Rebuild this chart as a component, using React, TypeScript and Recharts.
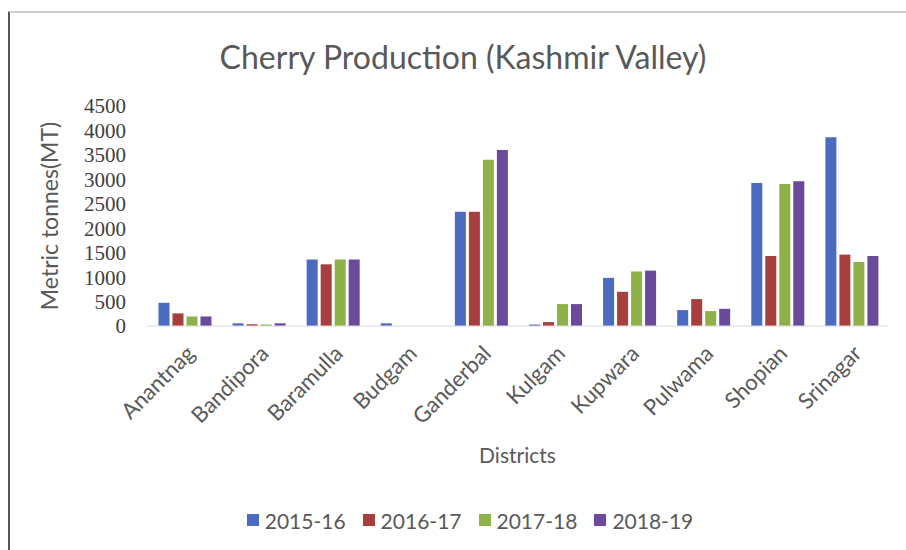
import React from 'react';
import { BarChart, Bar, XAxis, YAxis, Legend } from 'recharts';

const districts = ['Anantnag', 'Bandipora', 'Baramulla', 'Budgam', 'Ganderbal', 'Kulgam', 'Kupwara', 'Pulwama', 'Shopian', 'Srinagar'];
const y2015 = [475, 55, 1360, 55, 2335, 30, 985, 325, 2925, 3860];
const y2016 = [258, 35, 1262, 0, 2335, 80, 700, 550, 1432, 1460];
const y2017 = [195, 30, 1360, 0, 3400, 448, 1115, 305, 2905, 1310];
const y2018 = [195, 55, 1360, 0, 3600, 448, 1133, 352, 2960, 1432];
const yTicks = [0, 500, 1000, 1500, 2000, 2500, 3000, 3500, 4000, 4500];

const seriesInfo = [
  { key: 'y2015', name: '2015-16', color: '#4a6bbf' },
  { key: 'y2016', name: '2016-17', color: '#a73f3f' },
  { key: 'y2017', name: '2017-18', color: '#8fb14a' },
  { key: 'y2018', name: '2018-19', color: '#6a4a9b' },
];

const data = districts.map((d, i) => ({
  district: d,
  y2015: y2015[i],
  y2016: y2016[i],
  y2017: y2017[i],
  y2018: y2018[i],
}));

const FONT = 'Lato, "Liberation Sans", sans-serif';

const DistrictTick = ({ x, y, payload }: any) => (
  <text
    x={x + 8}
    y={y + 17}
    transform={`rotate(-45 ${x + 8} ${y + 17})`}
    textAnchor="end"
    dominantBaseline="middle"
    fontFamily={FONT}
    fontSize={22}
    fill="#595959"
  >
    {payload.value}
  </text>
);

const LegendContent = ({ payload }: any) => (
  <div style={{ display: 'flex', justifyContent: 'center', gap: 17, height: 30, alignItems: 'center', fontFamily: FONT, fontSize: 21, color: '#595959' }}>
    {(payload || []).map((p: any) => (
      <div key={p.value} style={{ display: 'flex', alignItems: 'center', gap: 6 }}>
        <span style={{ display: 'inline-block', width: 12, height: 12, background: p.color }} />
        <span>{p.value}</span>
      </div>
    ))}
  </div>
);

export default function App() {
  return (
    <div style={{ position: 'absolute', left: 0, top: 0, width: 906, height: 550, background: '#fff' }}>
      <div style={{ position: 'absolute', left: 8, top: 11, right: 0, bottom: 0, borderLeft: '2px solid #555', borderTop: '2px solid #cfcfcf' }} />
      <div style={{ position: 'absolute', left: 0, top: 37, width: 926, textAlign: 'center', fontFamily: FONT, fontSize: 32, color: '#595959' }}>
        Cherry Production (Kashmir Valley)
      </div>
      <div style={{ position: 'absolute', left: 0, top: 0 }}>
        <BarChart
          width={906}
          height={550}
          data={data}
          margin={{ top: 106, right: 18, left: 0, bottom: 0 }}
          barCategoryGap="15.5%"
          barGap={3}
        >
          <XAxis
            dataKey="district"
            interval={0}
            height={194}
            tick={<DistrictTick />}
            tickLine={false}
            axisLine={{ stroke: '#d9d9d9' }}
            label={{ value: 'Districts', position: 'insideBottom', offset: 57, fontFamily: FONT, fontSize: 21, fill: '#595959' }}
          />
          <YAxis
            width={147}
            domain={[0, 4500]}
            ticks={yTicks}
            interval={0}
            axisLine={false}
            tickLine={false}
            tickMargin={15}
            tick={{ fontFamily: '"Liberation Serif", serif', fontSize: 21, fill: '#404040' }}
            label={{ value: 'Metric tonnes(MT)', angle: -90, position: 'insideLeft', offset: 50, dy: 0, fontFamily: FONT, fontSize: 23, fill: '#595959', style: { textAnchor: 'middle' } }}
          />
          <Legend
            verticalAlign="bottom"
            content={<LegendContent />}
            wrapperStyle={{ top: 505, left: 30, width: 880 }}
          />
          {seriesInfo.map((s) => (
            <Bar key={s.key} dataKey={s.key} name={s.name} fill={s.color} isAnimationActive={false} />
          ))}
        </BarChart>
      </div>
    </div>
  );
}
